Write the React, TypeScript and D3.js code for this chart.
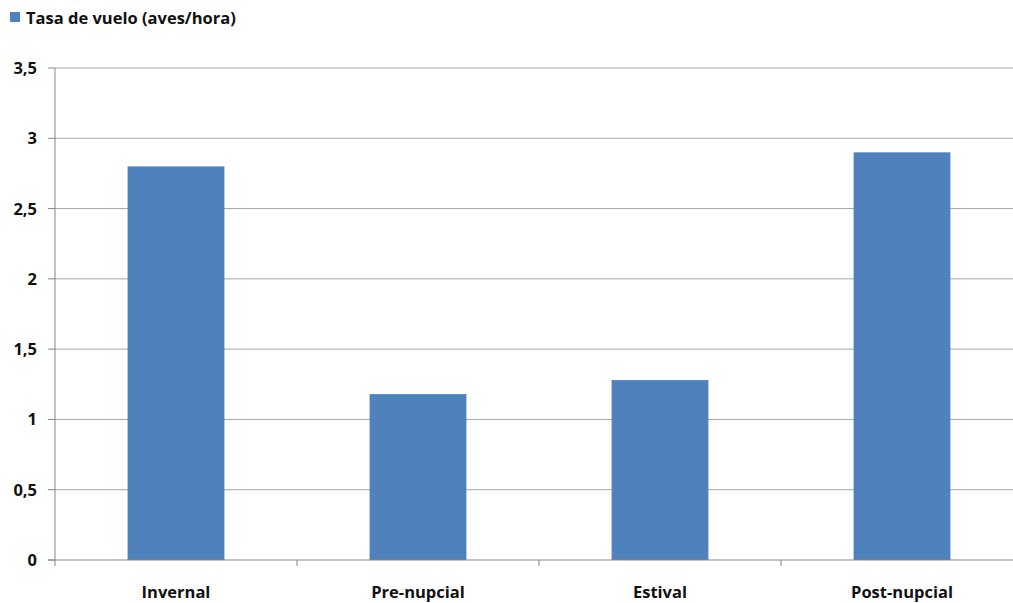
import React from "react";
import * as d3 from "d3";

const categories = ["Invernal", "Pre-nupcial", "Estival", "Post-nupcial"];
const values = [2.8, 1.18, 1.28, 2.9];
const yTicks = [0, 0.5, 1, 1.5, 2, 2.5, 3, 3.5];
const seriesName = "Tasa de vuelo (aves/hora)";

const W = 1013, H = 603;
const M = { left: 55, right: 1023, top: 68, bottom: 560 };
const FONT = "'Open Sans', 'Noto Sans', sans-serif";
const BAR = "#4f81bd";
const AXIS = "#868686";
const GRID = "#a6a6a6";

export default function App() {
  const x = d3.scaleBand<string>().domain(categories).range([M.left, M.right]).paddingInner(0.6).paddingOuter(0.3);
  const band = d3.scaleBand<string>().domain(categories).range([M.left, M.right]);
  const y = d3.scaleLinear().domain([0, 3.5]).range([M.bottom, M.top]);
  const fmt = (v: number) => String(v).replace(".", ",");
  return (
    <svg width={W} height={H} style={{ position: "absolute", left: 0, top: 0, background: "#fff" }} fontFamily={FONT}>
      <rect x={0} y={0} width={W} height={H} fill="#fff" />
      {/* legend */}
      <rect x={10} y={12} width={10} height={10} fill={BAR} />
      <text x={26} y={24} fontSize={16.5} fontWeight="bold" fill="#111">{seriesName}</text>
      {/* grid */}
      {yTicks.filter(t => t > 0).map(t => (
        <line key={t} x1={M.left} x2={M.right} y1={y(t)} y2={y(t)} stroke={GRID} strokeWidth={1} />
      ))}
      {/* bars */}
      {categories.map((c, i) => (
        <rect key={c} x={x(c)} y={y(values[i])} width={x.bandwidth()} height={y(0) - y(values[i])} fill={BAR} />
      ))}
      {/* y axis */}
      <line x1={M.left} x2={M.left} y1={M.top} y2={M.bottom} stroke={AXIS} />
      {yTicks.map(t => (
        <g key={t}>
          <line x1={M.left - 7} x2={M.left} y1={y(t)} y2={y(t)} stroke={AXIS} />
          <text x={37} y={y(t) + 6} textAnchor="end" fontSize={16.5} fontWeight="bold" fill="#111">{fmt(t)}</text>
        </g>
      ))}
      {/* x axis */}
      <line x1={M.left - 7} x2={M.right} y1={M.bottom} y2={M.bottom} stroke={AXIS} />
      {categories.map(c => (
        <line key={c} x1={band(c)} x2={band(c)} y1={M.bottom} y2={M.bottom + 6} stroke={AXIS} />
      ))}
      {categories.map(c => (
        <text key={c} x={band(c)! + band.bandwidth() / 2} y={598} textAnchor="middle" fontSize={16.5} fontWeight="bold" fill="#111">{c}</text>
      ))}
    </svg>
  );
}
